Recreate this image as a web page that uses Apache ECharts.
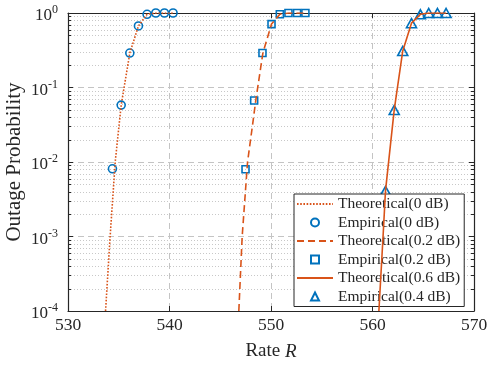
<!DOCTYPE html>
<html><head><meta charset="utf-8">
<script src="https://cdn.jsdelivr.net/npm/echarts@6/dist/echarts.min.js"></script>
<style>html,body{margin:0;padding:0;background:#fff}#c{width:488px;height:366px}</style>
</head><body><div id="c"></div>
<script>
// ---- data ----
const theo0Rate = [533.7, 534.15, 534.65, 535.24, 536.09, 536.94, 537.79, 538.65, 539.5, 540.35];
const theo0Prob = [1e-4, 1e-3, 1e-2, 0.058, 0.29, 0.67, 0.96, 1, 1, 1];
const emp0Rate = [534.38, 535.24, 536.09, 536.94, 537.79, 538.65, 539.5, 540.35];
const emp0Prob = [0.0081, 0.058, 0.29, 0.67, 0.96, 1, 1, 1];

const theo02Rate = [546.83, 547.16, 547.69, 548.24, 548.5, 549.2, 550.05, 550.87, 551.72, 552.57, 553.39];
const theo02Prob = [1e-4, 1e-3, 1e-2, 0.036, 0.067, 0.29, 0.71, 0.96, 1, 1, 1];
const emp02Rate = [547.49, 548.34, 549.16, 550.05, 550.87, 551.72, 552.57, 553.39];
const emp02Prob = [0.008, 0.067, 0.29, 0.71, 0.96, 1, 1, 1];

const theo06Rate = [560.63, 561.04, 561.28, 562.14, 562.98, 563.84, 564.72, 565.54, 566.4, 567.25];
const theo06Prob = [1e-4, 1e-3, 0.0041, 0.05, 0.31, 0.73, 0.96, 1, 1, 1];
const emp04Rate = [561.28, 562.14, 562.98, 563.84, 564.72, 565.54, 566.4, 567.25];
const emp04Prob = [0.0041, 0.05, 0.31, 0.73, 0.96, 1, 1, 1];

const seriesNames = ['Theoretical(0 dB)', 'Empirical(0 dB)', 'Theoretical(0.2 dB)', 'Empirical(0.2 dB)', 'Theoretical(0.6 dB)', 'Empirical(0.4 dB)'];
const decades = [1e-4, 1e-3, 1e-2, 1e-1, 1];
const minorMult = [2, 3, 4, 5, 6, 7, 8, 9];
const xMin = 530, xMax = 570, xStep = 10;

// ---- chart ----
const FONT = 'Liberation Serif';
const AX = '#262626';
const ORANGE = '#D95319';
const BLUE = '#0072BD';
const CLEAR = 'rgba(255,255,255,0)';
const pairs = (xs, ys) => xs.map((x, i) => [x, ys[i]]);
const minorVals = [];
decades.slice(0, -1).forEach(d => minorMult.forEach(m => minorVals.push(d * m)));

const chart = echarts.init(document.getElementById('c'), null, {renderer: 'canvas'});
const axisLineStyle = {color: AX, width: 1.2};
const theoLine = (name, rate, prob, type) => ({
  type: 'line', name, data: pairs(rate, prob), symbol: 'none', z: 4,
  lineStyle: {color: ORANGE, width: 1.6, type}, itemStyle: {color: ORANGE}
});
const empMarks = (name, rate, prob, symbol, size) => ({
  type: 'line', name, data: pairs(rate, prob), symbol, symbolSize: size, showSymbol: true, showAllSymbol: true, z: 3,
  lineStyle: {width: 0, opacity: 0, color: BLUE},
  itemStyle: {color: CLEAR, borderColor: BLUE, borderWidth: 1.6}
});
const option = {
  animation: false,
  backgroundColor: '#fff',
  grid: {left: 68, right: 14, top: 13, bottom: 55, outerBoundsMode: 'none', containLabel: false},
  xAxis: [
    {type: 'value', min: xMin, max: xMax, interval: xStep, position: 'bottom',
     axisLine: {show: true, onZero: false, lineStyle: axisLineStyle},
     axisTick: {show: true, inside: true, length: 5, lineStyle: {color: AX, width: 1}},
     axisLabel: {fontFamily: FONT, fontSize: 17.5, color: AX, margin: 5},
     splitLine: {show: true, lineStyle: {color: '#c4c4c4', type: [6, 4], width: 1}},
     name: 'Rate {i|R}', nameLocation: 'middle', nameGap: 31, nameMoveOverlap: false,
     nameTextStyle: {fontFamily: FONT, fontSize: 19, color: AX,
       rich: {i: {fontFamily: FONT, fontSize: 19, fontStyle: 'italic', color: AX}}}},
    {type: 'value', min: xMin, max: xMax, interval: xStep, position: 'top',
     axisLine: {show: true, onZero: false, lineStyle: axisLineStyle},
     axisTick: {show: true, inside: true, length: 5, lineStyle: {color: AX, width: 1}},
     axisLabel: {show: false}, splitLine: {show: false}}
  ],
  yAxis: [
    {type: 'log', logBase: 10, min: decades[0], max: decades[decades.length - 1], position: 'left',
     axisLine: {show: true, onZero: false, lineStyle: axisLineStyle},
     axisTick: {show: true, inside: true, length: 5, lineStyle: {color: AX, width: 1}},
     axisLabel: {margin: 10,
       formatter: v => '{b|10}{s|' + Math.round(Math.log10(v)) + '}',
       rich: {b: {fontFamily: FONT, fontSize: 17, color: AX, padding: [6, 0, 0, 0]},
              s: {fontFamily: FONT, fontSize: 12, color: AX, padding: [0, 0, 6, 0]}}},
     splitLine: {show: true, lineStyle: {color: '#c4c4c4', type: [6, 4], width: 1}},
     name: 'Outage Probability', nameLocation: 'middle', nameGap: 43, nameMoveOverlap: false,
     nameTextStyle: {fontFamily: FONT, fontSize: 21, color: AX}},
    {type: 'log', logBase: 10, min: decades[0], max: decades[decades.length - 1], position: 'right',
     axisLine: {show: true, onZero: false, lineStyle: axisLineStyle},
     axisTick: {show: true, inside: true, length: 5, lineStyle: {color: AX, width: 1}},
     axisLabel: {show: false}, splitLine: {show: false}}
  ],
  legend: {
    orient: 'vertical', left: 294, top: 194,
    backgroundColor: '#fff', borderColor: AX, borderWidth: 1, borderRadius: 0,
    padding: [2, 4, 2, 2], itemWidth: 36, itemHeight: 10, itemGap: 2.5,
    textStyle: {fontFamily: FONT, fontSize: 15.5, color: AX, lineHeight: 15.5},
    data: seriesNames.map((n, i) => i % 2 === 0
      ? {name: n, itemStyle: {color: CLEAR, borderColor: CLEAR, borderWidth: 0}}
      : {name: n})
  },
  series: [
    {type: 'custom', name: 'minor', silent: true, z: 1, xAxisIndex: 0, yAxisIndex: 0,
     data: minorVals.map(v => [xMin, v]),
     renderItem(params, api) {
       const cs = params.coordSys;
       const y = Math.round(api.coord([xMin, api.value(1)])[1]) + 0.5;
       return {type: 'group', children: [
         {type: 'line', shape: {x1: cs.x, y1: y, x2: cs.x + cs.width, y2: y},
          style: {stroke: '#c8c8c8', lineWidth: 1, lineDash: [1, 2]}},
         {type: 'line', shape: {x1: cs.x, y1: y, x2: cs.x + 3, y2: y}, style: {stroke: AX, lineWidth: 1}},
         {type: 'line', shape: {x1: cs.x + cs.width - 3, y1: y, x2: cs.x + cs.width, y2: y}, style: {stroke: AX, lineWidth: 1}}
       ]};
     }},
    theoLine(seriesNames[0], theo0Rate, theo0Prob, [1.6, 1.6]),
    empMarks(seriesNames[1], emp0Rate, emp0Prob, 'circle', 8),
    theoLine(seriesNames[2], theo02Rate, theo02Prob, [7, 4]),
    empMarks(seriesNames[3], emp02Rate, emp02Prob, 'rect', 7),
    theoLine(seriesNames[4], theo06Rate, theo06Prob, 'solid'),
    empMarks(seriesNames[5], emp04Rate, emp04Prob, 'triangle', [10, 9])
  ]
};
chart.setOption(option);
</script>
</body></html>
